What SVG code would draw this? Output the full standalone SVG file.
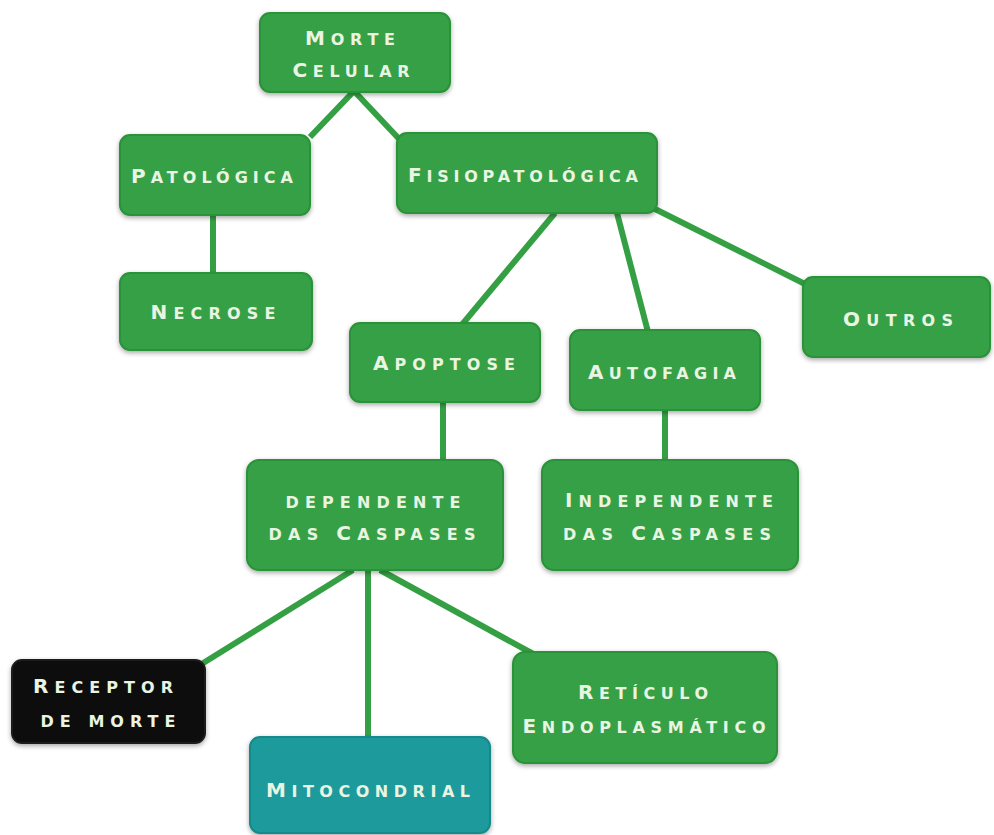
<svg xmlns="http://www.w3.org/2000/svg" width="994" height="835" viewBox="0 0 994 835">
<defs>
<filter id="soft" x="-10%" y="-10%" width="120%" height="130%">
<feGaussianBlur in="SourceAlpha" stdDeviation="2.5"/>
<feOffset dx="0" dy="2" result="b"/>
<feComponentTransfer><feFuncA type="linear" slope="0.35"/></feComponentTransfer>
<feMerge><feMergeNode/><feMergeNode in="SourceGraphic"/></feMerge>
</filter>
</defs>
<style>
.box{fill:#34a044;stroke:#2c9238;stroke-width:2;filter:url(#soft)}
.black{fill:#0b0b0b;stroke:#1a1a1a}
.teal{fill:#1b9a9c;stroke:#17898b}
.t{font-family:"DejaVu Sans","Liberation Sans",sans-serif;font-weight:bold;font-size:16px;text-transform:uppercase;fill:#e9f4e2;text-anchor:middle}
.k{font-size:20px}
.c line{stroke:#35a043;stroke-width:6;stroke-linecap:butt}
</style>
<rect width="994" height="835" fill="#ffffff"/>
<g class="c" id="connectors">
<line x1="353" y1="92" x2="310" y2="137"/>
<line x1="355" y1="92" x2="402" y2="142"/>
<line x1="213" y1="215" x2="213" y2="273"/>
<line x1="555" y1="213" x2="460" y2="327"/>
<line x1="617" y1="213" x2="648" y2="332"/>
<line x1="653" y1="208" x2="807" y2="285"/>
<line x1="443" y1="402" x2="443" y2="460"/>
<line x1="665" y1="410" x2="665" y2="460"/>
<line x1="353" y1="570" x2="200" y2="665"/>
<line x1="368" y1="570" x2="368" y2="737"/>
<line x1="380" y1="570" x2="537" y2="656"/>
</g>
<g id="morte-celular">
<rect class="box" x="260" y="13" width="190" height="79" rx="10"/>
<text class="t" x="350" y="45" textLength="90" lengthAdjust="spacing"><tspan class="k">M</tspan>orte</text>
<text class="t" x="351" y="77" textLength="117" lengthAdjust="spacing"><tspan class="k">C</tspan>elular</text>
</g>
<g id="patologica">
<rect class="box" x="120" y="135" width="190" height="80" rx="10"/>
<text class="t" x="212" y="183" textLength="162" lengthAdjust="spacing"><tspan class="k">P</tspan>atológica</text>
</g>
<g id="fisiopatologica">
<rect class="box" x="397" y="133" width="260" height="80" rx="10"/>
<text class="t" x="523" y="182" textLength="230" lengthAdjust="spacing"><tspan class="k">F</tspan>isiopatológica</text>
</g>
<g id="necrose">
<rect class="box" x="120" y="273" width="192" height="77" rx="10"/>
<text class="t" x="213" y="319" textLength="125" lengthAdjust="spacing"><tspan class="k">N</tspan>ecrose</text>
</g>
<g id="outros">
<rect class="box" x="803" y="277" width="187" height="80" rx="10"/>
<text class="t" x="898" y="326" textLength="110" lengthAdjust="spacing"><tspan class="k">O</tspan>utros</text>
</g>
<g id="apoptose">
<rect class="box" x="350" y="323" width="190" height="79" rx="10"/>
<text class="t" x="444" y="370" textLength="142" lengthAdjust="spacing"><tspan class="k">A</tspan>poptose</text>
</g>
<g id="autofagia">
<rect class="box" x="570" y="330" width="190" height="80" rx="10"/>
<text class="t" x="662" y="379" textLength="148" lengthAdjust="spacing"><tspan class="k">A</tspan>utofagia</text>
</g>
<g id="dependente">
<rect class="box" x="247" y="460" width="256" height="110" rx="12"/>
<text class="t" x="373" y="508" textLength="175" lengthAdjust="spacing">dependente</text>
<text class="t" x="372" y="540" textLength="207" lengthAdjust="spacing">das <tspan class="k">C</tspan>aspases</text>
</g>
<g id="independente">
<rect class="box" x="542" y="460" width="256" height="110" rx="12"/>
<text class="t" x="669" y="507" textLength="208" lengthAdjust="spacing"><tspan class="k">I</tspan>ndependente</text>
<text class="t" x="667" y="540" textLength="208" lengthAdjust="spacing">das <tspan class="k">C</tspan>aspases</text>
</g>
<g id="receptor">
<rect class="box black" x="12" y="660" width="193" height="83" rx="10"/>
<text class="t" x="103" y="693" textLength="140" lengthAdjust="spacing"><tspan class="k">R</tspan>eceptor</text>
<text class="t" x="108" y="727" textLength="135" lengthAdjust="spacing">de morte</text>
</g>
<g id="mitocondrial">
<rect class="box teal" x="250" y="737" width="240" height="96" rx="10"/>
<text class="t" x="368" y="797" textLength="204" lengthAdjust="spacing"><tspan class="k">M</tspan>itocondrial</text>
</g>
<g id="reticulo">
<rect class="box" x="513" y="652" width="264" height="111" rx="12"/>
<text class="t" x="643" y="699" textLength="130" lengthAdjust="spacing"><tspan class="k">R</tspan>etículo</text>
<text class="t" x="644" y="733" textLength="243" lengthAdjust="spacing"><tspan class="k">E</tspan>ndoplasmático</text>
</g>
</svg>
